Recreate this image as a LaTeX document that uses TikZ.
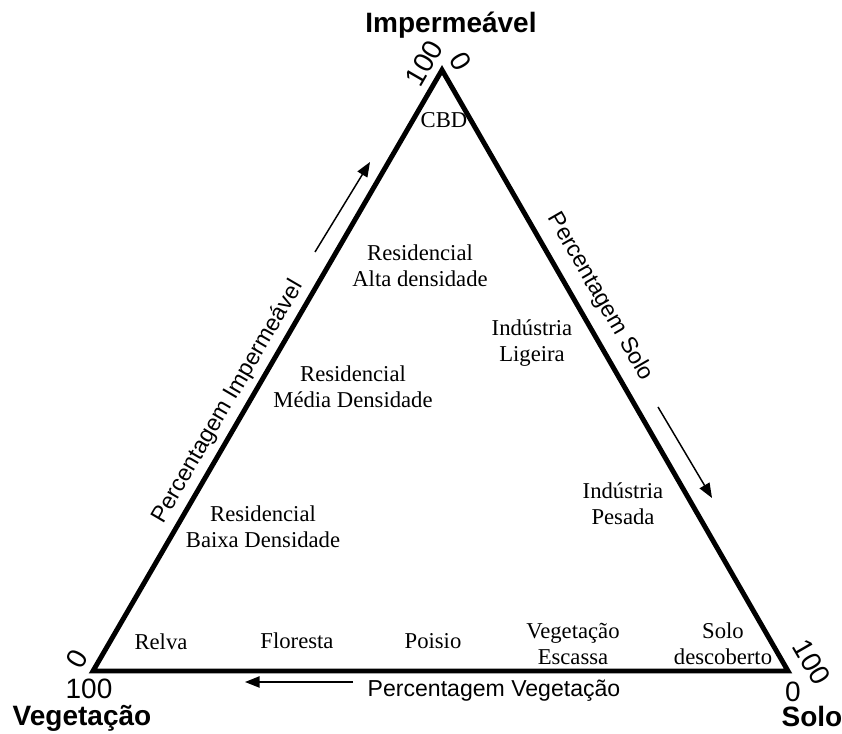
\documentclass[tikz,border=0pt]{standalone}
\usepackage{fontspec}
\setmainfont{Liberation Serif}
\newfontfamily\arialf{Liberation Sans}
\usetikzlibrary{arrows.meta}
\begin{document}
\begin{tikzpicture}[x=0.75pt,y=0.75pt,
  edge/.style={line width=3.7pt,line join=miter},
  zone/.style={font=\fontsize{17}{19.5}\selectfont,align=center,inner sep=0pt},
  axislbl/.style={font=\arialf\fontsize{17.3}{20}\selectfont,inner sep=0pt},
  num/.style={font=\arialf\fontsize{21}{23}\selectfont,inner sep=0pt},
  vtx/.style={font=\arialf\bfseries\fontsize{21}{24}\selectfont,inner sep=0pt},
  dirarrow/.style={line width=1.1pt,-{Triangle[length=11pt,width=8.5pt]}}]
\useasboundingbox (0,0) rectangle (842,734);
% triangle
\coordinate (A) at (442,664);
\coordinate (B) at (93,63);
\coordinate (C) at (788,63);
\draw[edge] (A) -- (B) -- (C) -- cycle;
% vertex names
\node[vtx] (imp) at (451,709) {Impermeável};
\node[vtx] (veg) at (82,16) {Vegetação};
\node[vtx] (solo) at (812,18) {Solo};
% scale numbers
\node[num,rotate=60] (n100a) at (424,671) {100};
\node[num,rotate=-60] (n0a) at (461,673) {0};
\node[num,rotate=60] (n0b) at (77,75) {0};
\node[num] (n100b) at (89,45) {100};
\node[num,rotate=-60] (n100c) at (812,72) {100};
\node[num] (n0c) at (793,42) {0};
% zones
\node[zone] (cbd) at (444,614) {CBD};
\node[zone] (resAlta) at (420,468) {Residencial\\Alta densidade};
\node[zone] (resMedia) at (353,347) {Residencial\\Média Densidade};
\node[zone] (resBaixa) at (263,207) {Residencial\\Baixa Densidade};
\node[zone] (indLig) at (532,391) {Indústria\\Ligeira};
\node[zone] (indPes) at (623,230) {Indústria\\Pesada};
\node[zone] (relva) at (161,92) {Relva};
\node[zone] (floresta) at (297,93) {Floresta};
\node[zone] (poisio) at (433,93) {Poisio};
\node[zone] (vegEsc) at (573,90) {Vegetação\\Escassa};
\node[zone] (soloDesc) at (723,90) {Solo\\descoberto};
% axis labels
\node[axislbl,rotate=59.7] (pImp) at (228,332) {Percentagem Impermeável};
\node[axislbl,rotate=-60] (pSolo) at (600,437) {Percentagem Solo};
\node[axislbl] (pVeg) at (494,43) {Percentagem Vegetação};
% direction arrows
\coordinate (la0) at (315,482);
\coordinate (la1) at (370,572);
\coordinate (ra0) at (658,327);
\coordinate (ra1) at (712,236);
\coordinate (ba0) at (353,52);
\coordinate (ba1) at (245,52);
\draw[dirarrow] (la0) -- (la1);
\draw[dirarrow] (ra0) -- (ra1);
\draw[dirarrow] (ba0) -- (ba1);
\end{tikzpicture}
\end{document}
